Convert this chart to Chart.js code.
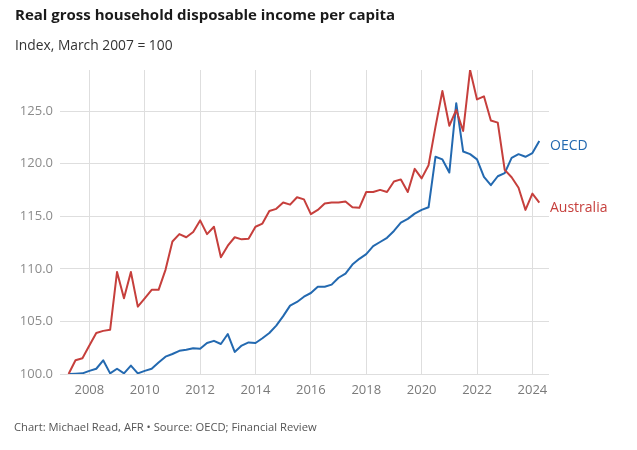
<!DOCTYPE html>
<html>
<head>
<meta charset="utf-8">
<script src="https://cdn.jsdelivr.net/npm/chart.js@4"></script>
<style>
  html, body { margin: 0; padding: 0; background: #fff; }
  #wrap { position: relative; width: 637px; height: 450px; font-family: "Open Sans", sans-serif; }
  #chart { position: absolute; left: 0; top: 0; }
  .title { position: absolute; left: 15px; top: 4px; font-size: 15px; font-weight: 700; color: #1a1a1a; }
  .sub { position: absolute; left: 15px; top: 35px; font-size: 13.8px; color: #333; }
  .foot { position: absolute; left: 14px; top: 419px; font-size: 11.2px; color: #555; }
</style>
</head>
<body>
<div id="wrap">
  <canvas id="chart" width="637" height="450"></canvas>
  <div class="title">Real gross household disposable income per capita</div>
  <div class="sub">Index, March 2007 = 100</div>
  <div class="foot">Chart: Michael Read, AFR &bull; Source: OECD; Financial Review</div>
</div>
<script>
// --- Data: quarterly, March 2007 to March 2024 ---
const startYear = 2007;
const xTicks = [2008, 2010, 2012, 2014, 2016, 2018, 2020, 2022, 2024];
const yTicks = [100, 105, 110, 115, 120, 125];

const australia = [
  100.0, 101.3, 101.5, 102.7, 103.9, 104.1, 104.2, 109.7, 107.2, 109.7,
  106.4, 107.2, 108.0, 108.0, 109.9, 112.6, 113.3, 113.0, 113.5, 114.6,
  113.3, 114.0, 111.1, 112.2, 113.0, 112.8, 112.85, 114.0, 114.3, 115.5,
  115.7, 116.3, 116.1, 116.8, 116.6, 115.2, 115.6, 116.2, 116.3, 116.3,
  116.4, 115.85, 115.8, 117.3, 117.3, 117.5, 117.3, 118.3, 118.5, 117.3,
  119.5, 118.6, 119.85, 123.5, 126.9, 123.6, 125.1, 123.1, 128.9, 126.1,
  126.4, 124.1, 123.9, 119.4, 118.7, 117.7, 115.6, 117.15, 116.3
];
const oecd = [
  100.0, 100.03, 100.06, 100.3, 100.5, 101.3, 100.06, 100.5, 100.06, 100.8,
  100.06, 100.3, 100.5, 101.1, 101.65, 101.9, 102.2, 102.3, 102.45, 102.4,
  102.95, 103.15, 102.85, 103.8, 102.1, 102.7, 103.0, 102.95, 103.4, 103.9,
  104.6, 105.5, 106.5, 106.85, 107.35, 107.7, 108.3, 108.3, 108.5, 109.15,
  109.55, 110.4, 110.95, 111.4, 112.15, 112.55, 112.95, 113.6, 114.4, 114.75,
  115.25, 115.6, 115.85, 120.65, 120.4, 119.15, 125.75, 121.15, 120.9, 120.4,
  118.75, 117.95, 118.8, 119.1, 120.55, 120.9, 120.65, 121.0, 122.15
];

// quarter-end positions in decimal years (Mar = .25, Jun = .5, ...)
const quarters = australia.map((_, i) => startYear + 0.25 + i * 0.25);

const BLUE = '#2369b0';
const RED = '#c63f3c';

const toPoints = (vals) => vals.map((v, i) => ({ x: quarters[i], y: v }));

// draws the series name just right of the plot, at the last value
const endLabels = {
  id: 'endLabels',
  afterDatasetsDraw(chart) {
    const { ctx, chartArea, scales } = chart;
    ctx.save();
    ctx.font = '14px "Open Sans", sans-serif';
    ctx.textBaseline = 'middle';
    chart.data.datasets.forEach(ds => {
      const last = ds.data[ds.data.length - 1];
      const y = scales.y.getPixelForValue(last.y) + (ds.labelShift || 0);
      ctx.fillStyle = ds.borderColor;
      ctx.fillText(ds.label, chartArea.right + 1, y);
    });
    ctx.restore();
  }
};

new Chart(document.getElementById('chart'), {
  type: 'line',
  data: {
    datasets: [
      { label: 'Australia', data: toPoints(australia), borderColor: RED, borderWidth: 2, labelShift: 5 },
      { label: 'OECD', data: toPoints(oecd), borderColor: BLUE, borderWidth: 2, labelShift: 5 }
    ]
  },
  options: {
    responsive: false,
    animation: false,
    layout: { padding: { top: 70, right: 88, bottom: 46, left: 0 } },
    elements: { point: { radius: 0 }, line: { tension: 0, borderJoinStyle: 'round' } },
    plugins: { legend: { display: false }, tooltip: { enabled: false } },
    scales: {
      x: {
        type: 'linear',
        min: 2006.94,
        max: 2024.6,
        afterBuildTicks: (s) => { s.ticks = xTicks.map(v => ({ value: v })); },
        afterFit: (s) => { s.height = 30; },
        grid: { color: '#dedede', drawTicks: false },
        border: { display: false },
        ticks: {
          padding: 8,
          color: '#7a7a7a',
          font: { family: 'Open Sans', size: 13 },
          callback: (v) => String(v)
        }
      },
      y: {
        min: 100,
        max: 128.9,
        afterBuildTicks: (s) => { s.ticks = yTicks.map(v => ({ value: v })); },
        afterFit: (s) => { s.width = 60; },
        grid: { color: '#dedede', drawTicks: false },
        border: { display: false },
        ticks: {
          padding: 7,
          color: '#8c8c8c',
          font: { family: 'Open Sans', size: 13 },
          callback: (v) => v.toFixed(1)
        }
      }
    }
  },
  plugins: [endLabels]
});
</script>
</body>
</html>
